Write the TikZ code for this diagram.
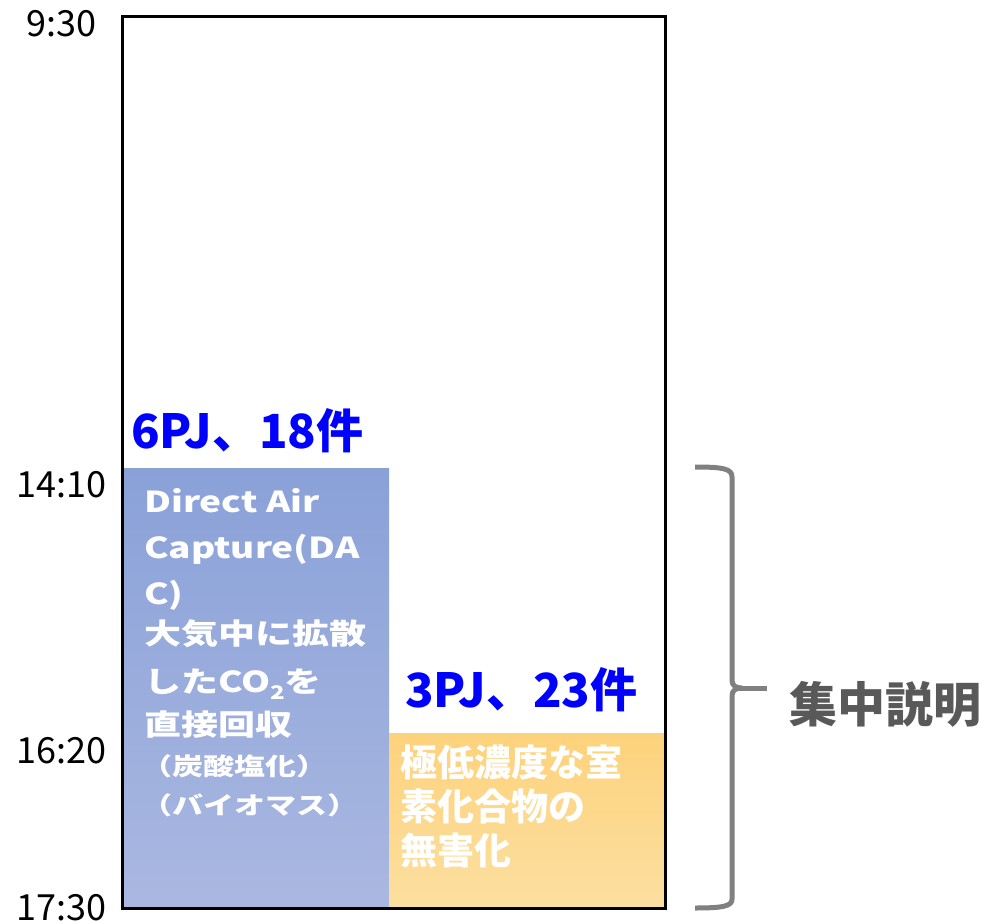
\documentclass[tikz,border=0pt]{standalone}
\usepackage{fontspec}
\setmainfont{Noto Sans CJK JP}
\usepackage{graphicx}
\definecolor{bluetop}{RGB}{138,161,216}
\definecolor{bluebot}{RGB}{170,184,225}
\definecolor{orgtop}{RGB}{253,210,124}
\definecolor{orgbot}{RGB}{252,223,160}
\definecolor{bracegray}{RGB}{128,128,128}
\definecolor{labelgray}{RGB}{89,89,89}
\newcommand{\fs}[1]{\fontsize{#1}{#1}\selectfont}
\newcommand{\sq}[1]{\scalebox{1}[0.78]{#1}}
\tikzset{
  timelbl/.style={anchor=base east, inner sep=0pt, font=\fs{36}},
  count/.style={anchor=base west, inner sep=0pt, font=\fs{47}\bfseries, text=blue},
  boxtxt/.style={anchor=base west, inner sep=0pt, font=\fs{37}\bfseries, text=white},
  boxsmall/.style={anchor=base west, inner sep=0pt, font=\fs{31}\bfseries, text=white},
}
\begin{document}
\begin{tikzpicture}[x=1pt,y=-1pt]
\useasboundingbox (0,0) rectangle (990,923);
% boxes
\shade[top color=bluetop, bottom color=bluebot] (121,468) rectangle (389,908);
\shade[top color=orgtop, bottom color=orgbot] (389,733) rectangle (665,908);
\draw[line width=3pt] (122,17) rectangle (665,908);
% time labels
\node[timelbl] (t1) at (97,37) {9:30};
\node[timelbl] (t2) at (107,497) {14:10};
\node[timelbl] (t3) at (107,763) {16:20};
\node[timelbl] (t4) at (107,920) {17:30};
% counts
\node[count] (c1) at (131,448) {6PJ、18件};
\node[count] (c2) at (405,707) {3PJ、23件};
% blue box text
\node[boxtxt] (b1) at (144,512) {\sq{Direct Air}};
\node[boxtxt] (b2) at (144,558) {\sq{Capture(DA}};
\node[boxtxt] (b3) at (144,604) {\sq{C)}};
\node[boxtxt] (b4) at (144,644) {\sq{大気中に拡散}};
\node[boxtxt] (b5) at (144,692) {\sq{したCO\raisebox{-10pt}{\fs{24}2}を}};
\node[boxtxt] (b6) at (144,735) {\sq{直接回収}};
\node[boxsmall] (b7) at (141,775) {\sq{（炭酸塩化）}};
\node[boxsmall] (b8) at (141,814) {\sq{（バイオマス）}};
% orange box text
\node[boxtxt] (o1) at (400,776) {極低濃度な室};
\node[boxtxt] (o2) at (400,820) {素化合物の};
\node[boxtxt] (o3) at (400,864) {無害化};
% brace
\draw[bracegray, line width=5pt]
  (695,467) .. controls (724,467) and (732,469) .. (732,477) -- (732,680)
  .. controls (732,686) and (736,688) .. (742,688)
  .. controls (736,688) and (732,690) .. (732,696) -- (732,899)
  .. controls (732,906) and (724,908) .. (695,908);
\coordinate (bt) at (740,688);
\coordinate (be) at (767,688);
\draw[bracegray, line width=5pt] (bt) -- (be);
\node[anchor=base west, inner sep=0pt, font=\fs{48}\bfseries, text=labelgray] (lbl) at (789,722) {集中説明};
\end{tikzpicture}
\end{document}
